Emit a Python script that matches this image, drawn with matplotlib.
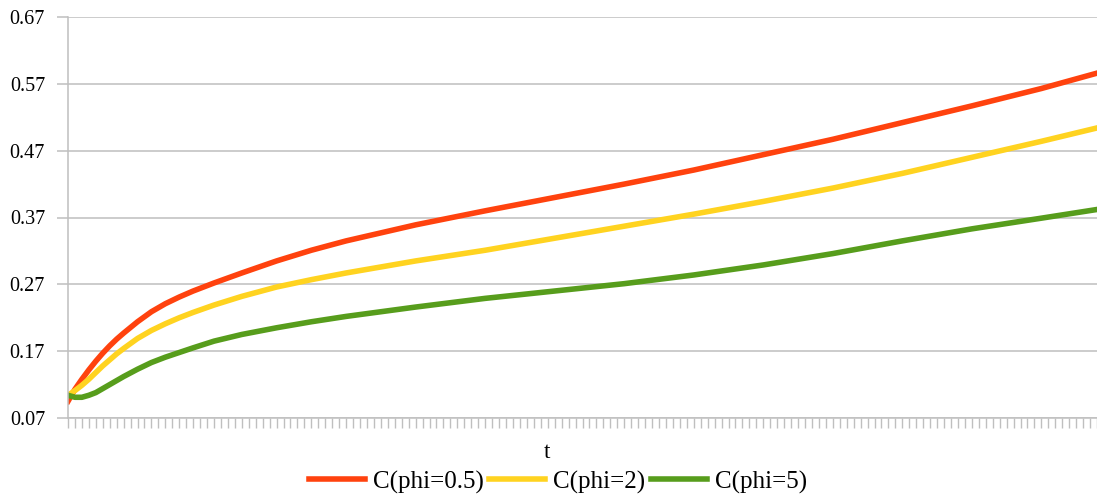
import matplotlib
matplotlib.use("Agg")
import matplotlib.pyplot as plt
from matplotlib.ticker import FormatStrFormatter, MultipleLocator

# values (category index along t)
t = [0, 1, 2, 3, 4, 5, 6, 7, 8, 10, 12, 14, 16, 18, 21, 25, 30, 35, 40, 45,
     50, 60, 70, 80, 90, 100, 110, 120, 130, 140, 148]
c_phi05 = [0.095, 0.113, 0.128, 0.142, 0.155, 0.167, 0.178, 0.188, 0.197,
           0.214, 0.229, 0.241, 0.251, 0.260, 0.272, 0.287, 0.305, 0.321,
           0.335, 0.347, 0.359, 0.380, 0.400, 0.420, 0.441, 0.464, 0.487,
           0.512, 0.537, 0.563, 0.586]
c_phi2 = [0.104, 0.111, 0.119, 0.128, 0.138, 0.148, 0.157, 0.166, 0.174,
          0.189, 0.201, 0.211, 0.220, 0.228, 0.239, 0.252, 0.266, 0.277,
          0.287, 0.296, 0.305, 0.321, 0.339, 0.357, 0.375, 0.394, 0.414,
          0.436, 0.460, 0.484, 0.504]
c_phi5 = [0.104, 0.101, 0.101, 0.104, 0.108, 0.114, 0.120, 0.126, 0.132,
          0.143, 0.153, 0.161, 0.168, 0.175, 0.185, 0.195, 0.205, 0.214,
          0.222, 0.229, 0.236, 0.249, 0.260, 0.271, 0.284, 0.299, 0.316,
          0.335, 0.353, 0.369, 0.382]
y_ticks = [0.07, 0.17, 0.27, 0.37, 0.47, 0.57, 0.67]
labels = ["C(phi=0.5)", "C(phi=2)", "C(phi=5)"]
colors = ["#ff420e", "#ffd320", "#579d1c"]

plt.rcParams['font.family'] = ['Liberation Serif', 'DejaVu Serif']
grey = "#bfbfbf"

fig = plt.figure(figsize=(10.97, 4.95), dpi=100)
ax = fig.add_axes([68 / 1097, 1 - 418 / 495, 1 - 68 / 1097, (418 - 17) / 495])

for ys, lab, col in zip([c_phi05, c_phi2, c_phi5], labels, colors):
    ax.plot(t, ys, color=col, lw=4, label=lab, solid_joinstyle='round')

ax.set_xlim(t[0], t[-1])
ax.set_ylim(y_ticks[0], y_ticks[-1])
ax.set_yticks(y_ticks)
ax.yaxis.set_major_formatter(FormatStrFormatter('%.2f'))
ax.xaxis.set_major_locator(MultipleLocator(1))
ax.set_xticklabels([])
ax.grid(axis='y', color=grey, lw=1.1)
ax.set_axisbelow(True)

for side in ['top', 'right']:
    ax.spines[side].set_visible(False)
for side in ['left', 'bottom']:
    ax.spines[side].set_color(grey)
    ax.spines[side].set_linewidth(1.1)
ax.tick_params(axis='y', length=8, width=1.1, color=grey, pad=8.5,
               labelsize=14.5)
ax.tick_params(axis='x', length=7.2, width=1.0, color=grey)

fig.text(547 / 1097, 1 - 453 / 495, "t", ha='center', va='center',
         fontsize=16.5)
fig.legend(loc='center', bbox_to_anchor=(558 / 1097, 1 - 482 / 495),
           ncol=3, frameon=False, fontsize=18, handlelength=2.24,
           handletextpad=0.31, columnspacing=0.24, borderpad=0,
           borderaxespad=0)

fig.savefig("out.png", dpi=100)
